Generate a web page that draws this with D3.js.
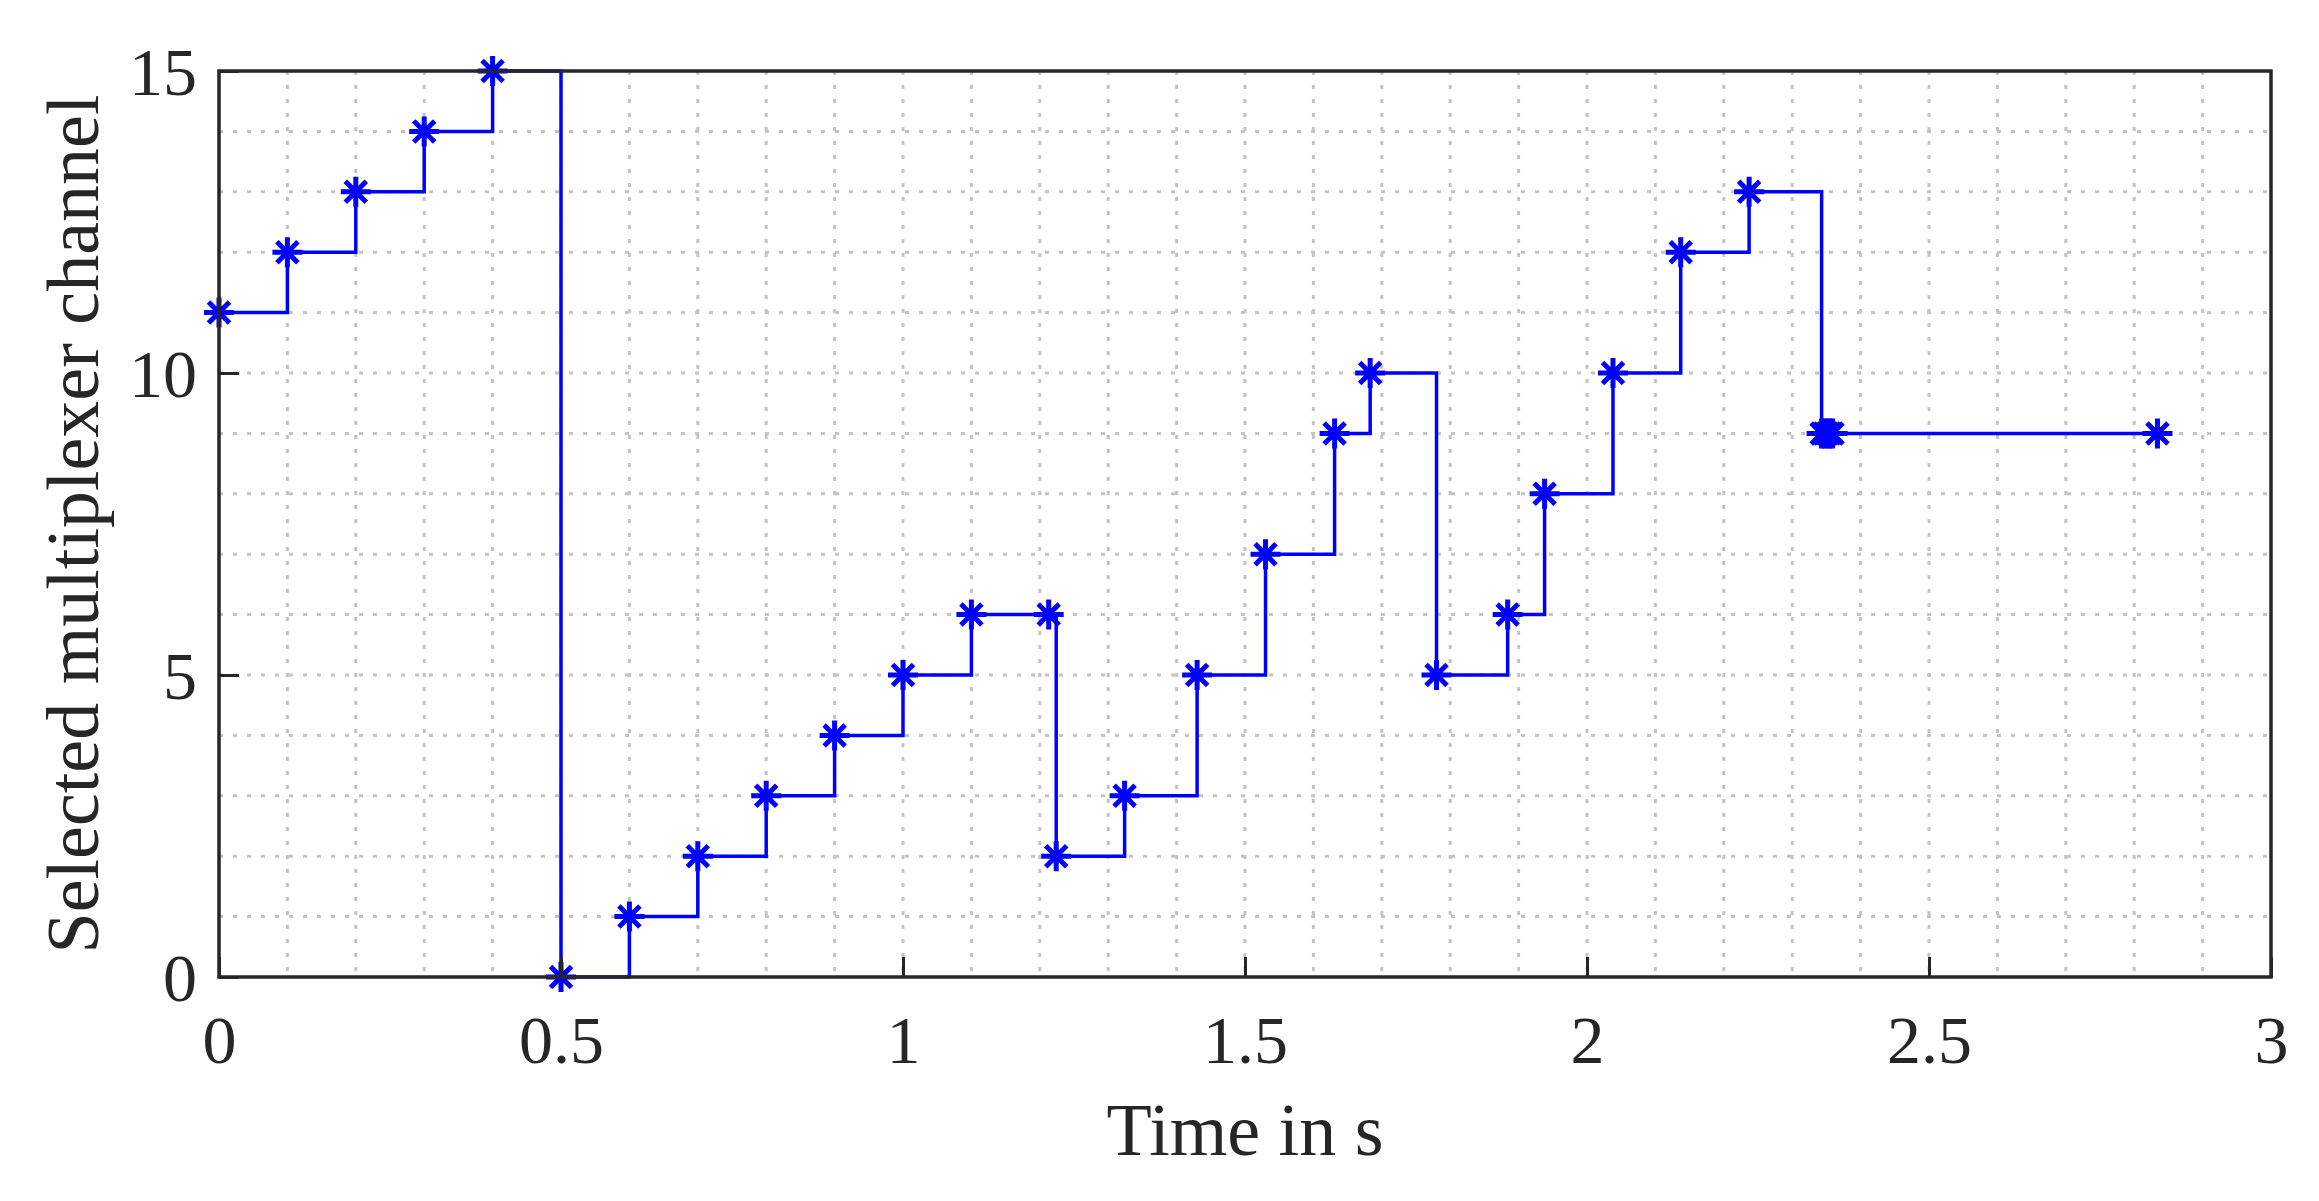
<!DOCTYPE html><html><head><script src="https://cdn.jsdelivr.net/npm/d3@7"></script>
<style>body{margin:0;background:#fff}svg{display:block}</style></head><body><svg id="c" width="2319" height="1201"></svg>
<script>
const times=[0,0.1,0.2,0.3,0.4,0.5,0.6,0.7,0.8,0.9,1.0,1.1,1.213,1.224,1.324,1.43,1.53,1.631,1.683,1.78,1.884,1.938,2.038,2.137,2.237,2.343,2.347,2.351,2.355,2.359,2.834];
const channels=[11,12,13,14,15,0,1,2,3,4,5,6,6,2,3,5,7,9,10,5,6,8,10,12,13,9,9,9,9,9,9];
const xTicks=[0,0.5,1,1.5,2,2.5,3];
const yTicks=[0,5,10,15];
const L=219,R=2271,T=71,B=977;
const svg=d3.select("#c");
const x=d3.scaleLinear().domain([0,3]).range([L,R]);
const y=d3.scaleLinear().domain([0,15]).range([B,T]);
const font="Liberation Serif, Times New Roman, serif";
const g=svg.append("g");
d3.range(1,30).forEach(i=>g.append("line").attr("x1",x(i/10)).attr("x2",x(i/10)).attr("y1",T).attr("y2",B).attr("stroke","#c4c4c4").attr("stroke-width",3).attr("stroke-dasharray","4,10"));
d3.range(1,15).forEach(i=>g.append("line").attr("y1",y(i)).attr("y2",y(i)).attr("x1",L).attr("x2",R).attr("stroke","#c4c4c4").attr("stroke-width",3).attr("stroke-dasharray","4,10"));
const pts=times.map((t,i)=>[t,channels[i]]);
svg.append("path").datum(pts).attr("d",d3.line().x(d=>x(d[0])).y(d=>y(d[1])).curve(d3.curveStepAfter)).attr("fill","none").attr("stroke","#0000ff").attr("stroke-width",3.5);
const s=15;
pts.forEach(d=>{const cx=x(d[0]),cy=y(d[1]);
 svg.append("path").attr("d",`M${cx-s},${cy}H${cx+s}M${cx},${cy-s}V${cy+s}M${cx-s*0.7},${cy-s*0.7}L${cx+s*0.7},${cy+s*0.7}M${cx-s*0.7},${cy+s*0.7}L${cx+s*0.7},${cy-s*0.7}`).attr("stroke","#0000ff").attr("stroke-width",5);});
const ax=svg.append("g").attr("transform",`translate(0,${B})`).call(d3.axisBottom(x).tickValues(xTicks).tickSize(-20).tickPadding(38).tickFormat(d3.format("~g")));
const ay=svg.append("g").attr("transform",`translate(${L},0)`).call(d3.axisLeft(y).tickValues(yTicks).tickSize(-20).tickPadding(22));
[ax,ay].forEach(a=>{a.select(".domain").remove();a.selectAll("line").attr("stroke","#262626").attr("stroke-width",3);a.selectAll("text").attr("font-family",font).attr("font-size",68).attr("fill","#262626");});
ay.selectAll("text").attr("dy","0.35em");
svg.append("rect").attr("x",L).attr("y",T).attr("width",R-L).attr("height",B-T).attr("fill","none").attr("stroke","#262626").attr("stroke-width",3.5);
svg.append("text").attr("x",(L+R)/2).attr("y",1155).attr("text-anchor","middle").attr("font-family",font).attr("font-size",74).attr("fill","#262626").text("Time in s");
svg.append("text").attr("transform",`translate(98,${(T+B)/2}) rotate(-90)`).attr("text-anchor","middle").attr("font-family",font).attr("font-size",74).attr("fill","#262626").text("Selected multiplexer channel");
</script></body></html>
